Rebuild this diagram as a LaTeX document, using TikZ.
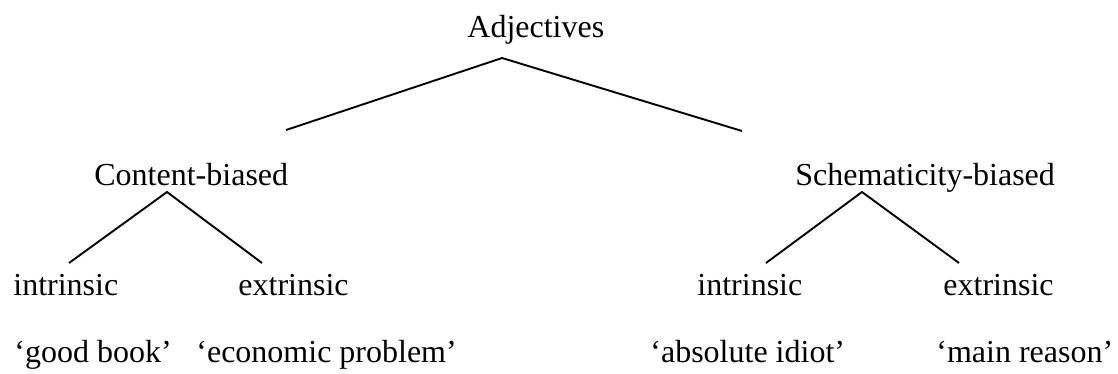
\documentclass[tikz,border=0pt]{standalone}
\usepackage{fontspec}
\setmainfont{Liberation Serif}
\begin{document}
\begin{tikzpicture}[x=0.5pt,y=-0.5pt,
  lbl/.style={inner sep=0pt,anchor=base west,font=\fontsize{16}{19}\selectfont},
  branch/.style={line width=0.95pt,line cap=butt}]
\useasboundingbox (0,0) rectangle (1118,374);
% nodes
\node[lbl] (adj) at (467,38) {Adjectives};
\node[lbl] (cb) at (94,185) {Content-biased};
\node[lbl] (sb) at (795,185) {Schematicity-biased};
\node[lbl] (ci) at (13,295) {intrinsic};
\node[lbl] (ce) at (238,295) {extrinsic};
\node[lbl] (si) at (697,295) {intrinsic};
\node[lbl] (se) at (943,295) {extrinsic};
\node[lbl] (q1) at (14,362) {‘good book’};
\node[lbl] (q2) at (196,362) {‘economic problem’};
\node[lbl] (q3) at (650,362) {‘absolute idiot’};
\node[lbl] (q4) at (936,362) {‘main reason’};
% branch points
\coordinate (adjtop) at (502,58);
\coordinate (adjL) at (286,130);
\coordinate (adjR) at (742,131);
\coordinate (cbtop) at (167,192);
\coordinate (cbL) at (69,263);
\coordinate (cbR) at (262,263);
\coordinate (sbtop) at (862,192);
\coordinate (sbL) at (766,263);
\coordinate (sbR) at (959,263);
\draw[branch] (adjL) -- (adjtop) -- (adjR);
\draw[branch] (cbL) -- (cbtop) -- (cbR);
\draw[branch] (sbL) -- (sbtop) -- (sbR);
\end{tikzpicture}
\end{document}
